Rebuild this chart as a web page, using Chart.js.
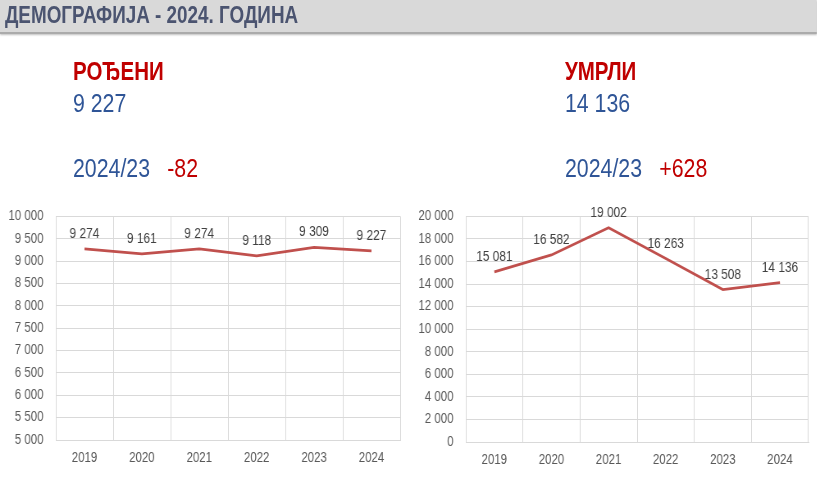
<!DOCTYPE html>
<html>
<head>
<meta charset="utf-8">
<script src="https://cdn.jsdelivr.net/npm/chart.js@4.4.1/dist/chart.umd.min.js"></script>
<style>
  /* the reference uses a narrow face; Liberation Sans squeezed to 82% stands in for it */
  body { margin: 0; width: 817px; height: 489px; background: #fff; overflow: hidden; }
  #page { position: absolute; left: 0; top: 0; width: 996px; height: 489px;
          transform: scaleX(0.82); transform-origin: 0 0;
          font-family: "Liberation Sans", Arial, sans-serif; }
  .hdr { position: absolute; left: 0; top: 0; width: 996px; height: 32px; background: #d9d9d9;
         border-bottom: 2px solid #ababab; box-shadow: 0 1px 2px rgba(0,0,0,0.25); }
  .hdr span { position: absolute; left: 6px; top: 4px; font-size: 23px; line-height: 1; font-weight: bold; color: #4b5470; }
  .t { position: absolute; line-height: 1; white-space: nowrap; }
  .lbl { font-size: 25px; font-weight: bold; color: #c00000; }
  .num { font-size: 26px; color: #2f5597; }
  .chg { color: #c00000; margin-left: 21px; }
  canvas { position: absolute; }
</style>
</head>
<body>
<div id="page">
<div class="hdr"><span>ДЕМОГРАФИЈА - 2024. ГОДИНА</span></div>

<div class="t lbl" style="left:89px; top:59px;">РОЂЕНИ</div>
<div class="t num" style="left:89px; top:90px;">9 227</div>
<div class="t num" style="left:89px; top:155px;">2024/23<span class="chg">-82</span></div>

<div class="t lbl" style="left:689px; top:59px;">УМРЛИ</div>
<div class="t num" style="left:689px; top:90px;">14 136</div>
<div class="t num" style="left:689px; top:155px;">2024/23<span class="chg">+628</span></div>

<canvas id="born" width="494" height="288" style="left:0; top:193px;"></canvas>
<canvas id="died" width="502" height="290" style="left:494px; top:193px;"></canvas>
</div>

<script>
const years = ['2019', '2020', '2021', '2022', '2023', '2024'];
const births = [9274, 9161, 9274, 9118, 9309, 9227];
const deaths = [15081, 16582, 19002, 16263, 13508, 14136];

const FONT = '"Liberation Sans", Arial, sans-serif';

function fmt(n) {
  return String(n).replace(/\B(?=(\d{3})+(?!\d))/g, ' ');
}

// small replacement for the datalabels plugin
const valueLabels = {
  id: 'valueLabels',
  afterDatasetsDraw(chart) {
    const ctx = chart.ctx;
    const meta = chart.getDatasetMeta(0);
    const data = chart.data.datasets[0].data;
    ctx.save();
    ctx.font = '14.5px ' + FONT;
    ctx.fillStyle = '#404040';
    ctx.textAlign = 'center';
    ctx.textBaseline = 'middle';
    meta.data.forEach((pt, i) => {
      ctx.fillText(fmt(data[i]), pt.x, pt.y - 15);
    });
    ctx.restore();
  }
};

function makeChart(id, values, min, max, step, yWidth, pad) {
  return new Chart(document.getElementById(id), {
    type: 'line',
    data: {
      labels: years,
      datasets: [{
        data: values,
        borderColor: '#c0504d',
        borderWidth: 2.75,
        pointRadius: 0,
        tension: 0,
        fill: false
      }]
    },
    options: {
      responsive: false,
      animation: false,
      layout: { padding: pad },
      plugins: { legend: { display: false }, tooltip: { enabled: false } },
      scales: {
        x: {
          offset: true,
          grid: { offset: true, color: '#d9d9d9', drawTicks: false },
          border: { color: '#d9d9d9' },
          ticks: { padding: 10, color: '#595959', font: { family: FONT, size: 14 } },
          afterFit: s => { s.height = 41; }
        },
        y: {
          min, max,
          grid: { color: '#d9d9d9', drawTicks: false },
          border: { color: '#d9d9d9' },
          ticks: { stepSize: step, padding: 15, color: '#595959', font: { family: FONT, size: 14 },
                   callback: v => fmt(v) },
          afterFit: s => { s.width = yWidth; }
        }
      }
    },
    plugins: [valueLabels]
  });
}

makeChart('born', births, 5000, 10000, 500, 68, { top: 11, right: 6, left: 0, bottom: 0 });
makeChart('died', deaths, 0, 20000, 2000, 74, { top: 13, right: 10, left: 0, bottom: 0 });
</script>
</body>
</html>
